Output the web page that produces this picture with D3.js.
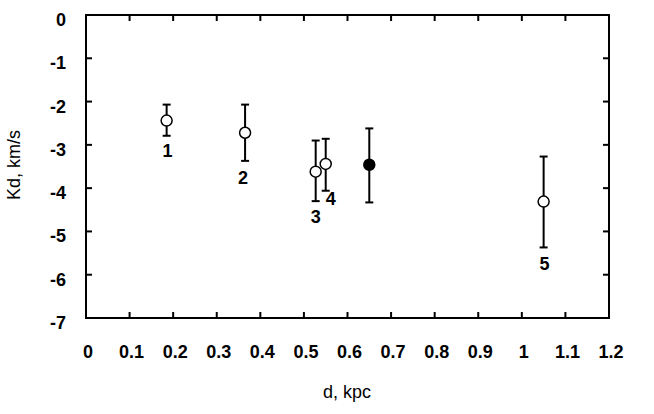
<!DOCTYPE html>
<html>
<head>
<meta charset="utf-8">
<script src="https://cdn.jsdelivr.net/npm/d3@7"></script>
<style>
  body { margin: 0; background: #fff; }
  svg text { font-family: "Liberation Sans", Arial, sans-serif; fill: #000; }
  .tick-label { font-size: 18px; font-weight: bold; }
  .axis-title { font-size: 18px; }
  .pt-label { font-size: 18px; font-weight: bold; }
</style>
</head>
<body>
<svg width="654" height="414"></svg>
<script>
// Data
var names = ["1", "2", "3", "4", "", "5"];
var dist = [0.185, 0.365, 0.527, 0.55, 0.65, 1.05];
var kd = [-2.44, -2.72, -3.62, -3.44, -3.46, -4.31];
var errTop = [-2.07, -2.07, -2.90, -2.86, -2.62, -3.27];
var errBottom = [-2.79, -3.37, -4.30, -4.06, -4.33, -5.37];
var filled = [false, false, false, false, true, false];
var xTicks = [0, 0.1, 0.2, 0.3, 0.4, 0.5, 0.6, 0.7, 0.8, 0.9, 1, 1.1, 1.2];
var yTicks = [0, -1, -2, -3, -4, -5, -6, -7];
// label offsets relative to point (px)
var labelDx = [1, -2, 0, 5, 0, 1];
var labelDy = [36, 51, 51, 41, 0, 68];

var svg = d3.select("svg");
var plotLeft = 86, plotRight = 609, plotTop = 15, plotBottom = 318;

var x = d3.scaleLinear().domain([0, 1.2]).range([plotLeft, plotRight]);
var y = d3.scaleLinear().domain([0, -7]).range([plotTop, plotBottom]);

var tickLen = 6;

// mirrored inward ticks on all four sides
var g = svg.append("g");
g.selectAll(".xt-b").data(xTicks.slice(1, -1)).enter().append("line")
  .attr("x1", function(d) { return x(d); }).attr("x2", function(d) { return x(d); })
  .attr("y1", plotBottom).attr("y2", plotBottom - tickLen)
  .attr("stroke", "#000").attr("stroke-width", 2);
g.selectAll(".xt-t").data(xTicks.slice(1, -1)).enter().append("line")
  .attr("x1", function(d) { return x(d); }).attr("x2", function(d) { return x(d); })
  .attr("y1", plotTop).attr("y2", plotTop + tickLen)
  .attr("stroke", "#000").attr("stroke-width", 2);
g.selectAll(".yt-l").data(yTicks.slice(1, -1)).enter().append("line")
  .attr("y1", function(d) { return y(d); }).attr("y2", function(d) { return y(d); })
  .attr("x1", plotLeft).attr("x2", plotLeft + tickLen)
  .attr("stroke", "#000").attr("stroke-width", 2);
g.selectAll(".yt-r").data(yTicks.slice(1, -1)).enter().append("line")
  .attr("y1", function(d) { return y(d); }).attr("y2", function(d) { return y(d); })
  .attr("x1", plotRight).attr("x2", plotRight - tickLen)
  .attr("stroke", "#000").attr("stroke-width", 2);

// frame
svg.append("rect")
  .attr("x", plotLeft).attr("y", plotTop)
  .attr("width", plotRight - plotLeft).attr("height", plotBottom - plotTop)
  .attr("fill", "none").attr("stroke", "#000").attr("stroke-width", 2);

// tick labels
svg.selectAll(".xl").data(xTicks).enter().append("text")
  .attr("class", "tick-label")
  .attr("x", function(d) { return x(d) + 2; })
  .attr("y", 358)
  .attr("text-anchor", "middle")
  .text(function(d) { return d; });

svg.selectAll(".yl").data(yTicks).enter().append("text")
  .attr("class", "tick-label")
  .attr("x", 66)
  .attr("y", function(d) { return y(d) + 11; })
  .attr("text-anchor", "end")
  .text(function(d) { return d; });

// axis titles
svg.append("text").attr("class", "axis-title")
  .attr("x", 347).attr("y", 398)
  .attr("text-anchor", "middle")
  .text("d, kpc");

svg.append("text").attr("class", "axis-title")
  .attr("transform", "translate(20,165) rotate(-90)")
  .attr("text-anchor", "middle")
  .text("Kd, km/s");

// error bars
var idx = d3.range(dist.length);
var cap = 4;
var eb = svg.selectAll(".err").data(idx).enter().append("g");
eb.append("line")
  .attr("x1", function(i) { return x(dist[i]); }).attr("x2", function(i) { return x(dist[i]); })
  .attr("y1", function(i) { return y(errTop[i]); }).attr("y2", function(i) { return y(errBottom[i]); })
  .attr("stroke", "#000").attr("stroke-width", 2);
eb.append("line")
  .attr("x1", function(i) { return x(dist[i]) - cap; }).attr("x2", function(i) { return x(dist[i]) + cap; })
  .attr("y1", function(i) { return y(errTop[i]); }).attr("y2", function(i) { return y(errTop[i]); })
  .attr("stroke", "#000").attr("stroke-width", 2);
eb.append("line")
  .attr("x1", function(i) { return x(dist[i]) - cap; }).attr("x2", function(i) { return x(dist[i]) + cap; })
  .attr("y1", function(i) { return y(errBottom[i]); }).attr("y2", function(i) { return y(errBottom[i]); })
  .attr("stroke", "#000").attr("stroke-width", 2);

// markers
svg.selectAll(".pt").data(idx).enter().append("circle")
  .attr("cx", function(i) { return x(dist[i]); })
  .attr("cy", function(i) { return y(kd[i]); })
  .attr("r", 5.5)
  .attr("fill", function(i) { return filled[i] ? "#000" : "#fff"; })
  .attr("stroke", "#000").attr("stroke-width", 1.5);

// point labels
svg.selectAll(".pl").data(idx.filter(function(i) { return names[i]; })).enter().append("text")
  .attr("class", "pt-label")
  .attr("x", function(i) { return x(dist[i]) + labelDx[i]; })
  .attr("y", function(i) { return y(kd[i]) + labelDy[i]; })
  .attr("text-anchor", "middle")
  .text(function(i) { return names[i]; });
</script>
</body>
</html>
